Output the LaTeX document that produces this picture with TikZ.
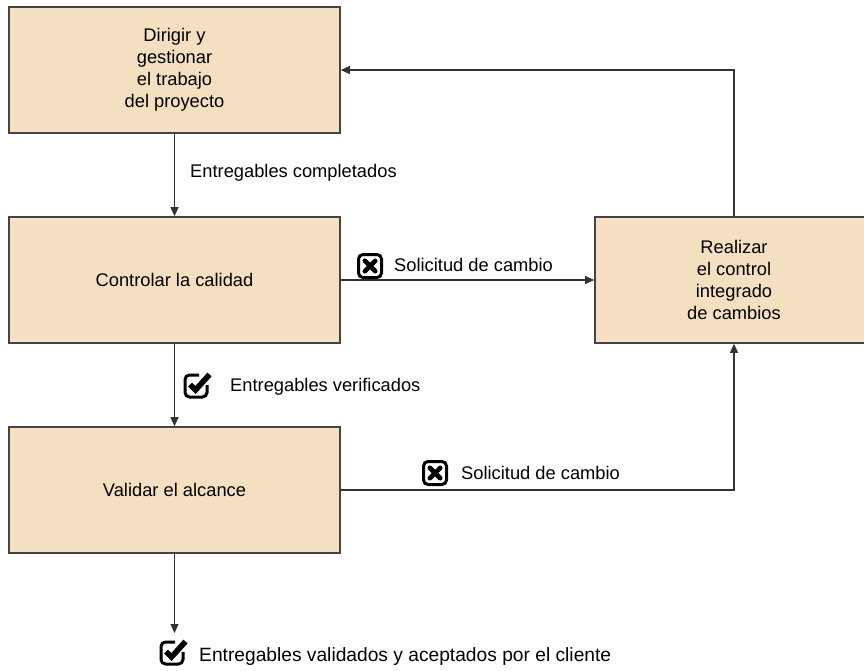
\documentclass[tikz,border=0pt]{standalone}
\usepackage{fontspec}
\setmainfont{Liberation Sans}
\usetikzlibrary{arrows.meta}
\definecolor{boxfill}{HTML}{F4DFC1}
\definecolor{boxline}{HTML}{444444}
\definecolor{wire}{HTML}{333333}
\begin{document}
\begin{tikzpicture}[x=1pt,y=-1pt,
  every node/.style={font=\fontsize{18.3}{22}\selectfont},
  procbox/.style={draw=boxline, line width=1.6pt, fill=boxfill, align=center, inner sep=0pt},
  wireline/.style={draw=wire, line width=1.2pt},
  arr/.style={wireline, -{Triangle[length=9pt,width=8pt]}},
  lbl/.style={anchor=west, inner sep=0pt},
  xicon/.pic={
    \draw[line width=3pt, rounded corners=4.5pt] (-11.5,-11.5) rectangle (11.5,11.5);
    \draw[line width=4.6pt, line cap=round] (-5.2,-5.2) -- (5.2,5.2) (-5.2,5.2) -- (5.2,-5.2);
  },
  chkicon/.pic={
    \draw[line width=3pt, rounded corners=4.5pt] (3,-11) -- (-11,-11) -- (-11,11) -- (11,11) -- (11,-1);
    \draw[line width=5.6pt, line join=miter] (-6,-1.5) -- (-0.5,4) -- (13.5,-11.5);
  }
]
\useasboundingbox (0,0) rectangle (864,671);
\clip (0,0) rectangle (864,671);

\node[procbox, minimum width=331pt, minimum height=126pt] (b1) at (174.5,70) {Dirigir y\\gestionar\\el trabajo\\del proyecto};
\node[procbox, minimum width=331pt, minimum height=126pt] (b2) at (174.5,280) {Controlar la calidad};
\node[procbox, minimum width=331pt, minimum height=126pt] (b3) at (174.5,490) {Validar el alcance};
\node[procbox, minimum width=278pt, minimum height=126pt] (b4) at (734,280) {Realizar\\el control\\integrado\\de cambios};
\coordinate (end) at (174.5,633);

\draw[arr] (b1.south) -- (b2.north);
\draw[arr] (b2.south) -- (b3.north);
\draw[arr] (b3.south) -- (end);
\draw[arr] (b2.east) -- (b4.west);
\draw[arr] (b4.north) |- (b1.east);
\draw[arr] (b3.east) -| (b4.south);

\node[lbl] (l1) at (190,173) {Entregables completados};
\pic at (370,266) {xicon};
\node[lbl] (l2) at (394,265) {Solicitud de cambio};
\pic at (196,386) {chkicon};
\node[lbl] (l3) at (230,387) {Entregables verificados};
\pic at (435,473) {xicon};
\node[lbl] (l4) at (461,473) {Solicitud de cambio};
\pic at (172,653) {chkicon};
\node[lbl, font=\fontsize{19.2}{23}\selectfont] (l5) at (199,657) {Entregables validados y aceptados por el cliente};
\end{tikzpicture}
\end{document}
